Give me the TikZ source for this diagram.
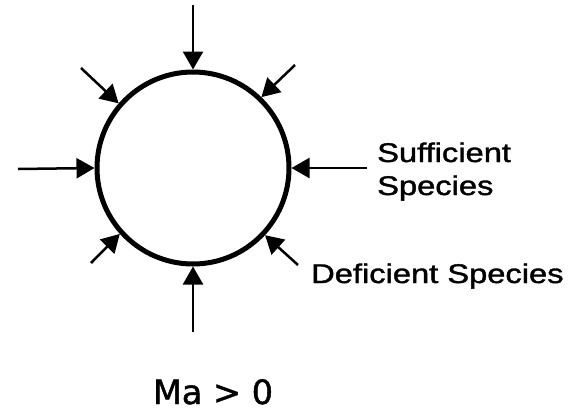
\documentclass[tikz,border=0pt]{standalone}
\usepackage{fontspec}
\setmainfont{Liberation Sans}
\newfontfamily\lblfont[FakeBold=1.3]{Liberation Sans}
\newfontfamily\mafont[FakeBold=1.3]{DejaVu Sans}
\usetikzlibrary{arrows.meta}
\begin{document}
\begin{tikzpicture}[x=1pt,y=-1pt,
  flux/.style={line width=2.5pt,-{Triangle[length=18pt,width=20pt]}},
  lbl/.style={inner sep=0pt,anchor=base west,font=\lblfont\fontsize{27}{32}\selectfont},
  bubble/.style={circle,draw,line width=5pt,minimum size=192pt,inner sep=0pt}]
\useasboundingbox (0,0) rectangle (575,410);
\node[bubble] (c) at (193,168) {};
\coordinate (pT) at (193,5);
\coordinate (pB) at (193,332);
\coordinate (pL) at (18,169);
\coordinate (pR) at (367,168);
\coordinate (pUL) at (81,68);
\coordinate (pUR) at (295,65);
\coordinate (pLL) at (91,263);
\coordinate (pLR) at (298,265);
\draw[flux] (pT) -- (c.north);
\draw[flux] (pB) -- (c.south);
\draw[flux] (pL) -- (c.west);
\draw[flux] (pR) -- (c.east);
\draw[flux] (pUL) -- (c.139);
\draw[flux] (pUR) -- (c.46);
\draw[flux] (pLL) -- (c.222);
\draw[flux] (pLR) -- (c.317);
\node[lbl] (s1) at (377,162) {\scalebox{1.21}[1]{Sufficient}};
\node[lbl] (s2) at (377,195) {\scalebox{1.21}[1]{Species}};
\node[lbl] (d1) at (311,283) {\scalebox{1.21}[1]{Deficient Species}};
\node[inner sep=0pt,anchor=base,font=\mafont\fontsize{33.5}{40}\selectfont] (ma) at (213,404) {Ma > 0};
\end{tikzpicture}
\end{document}
